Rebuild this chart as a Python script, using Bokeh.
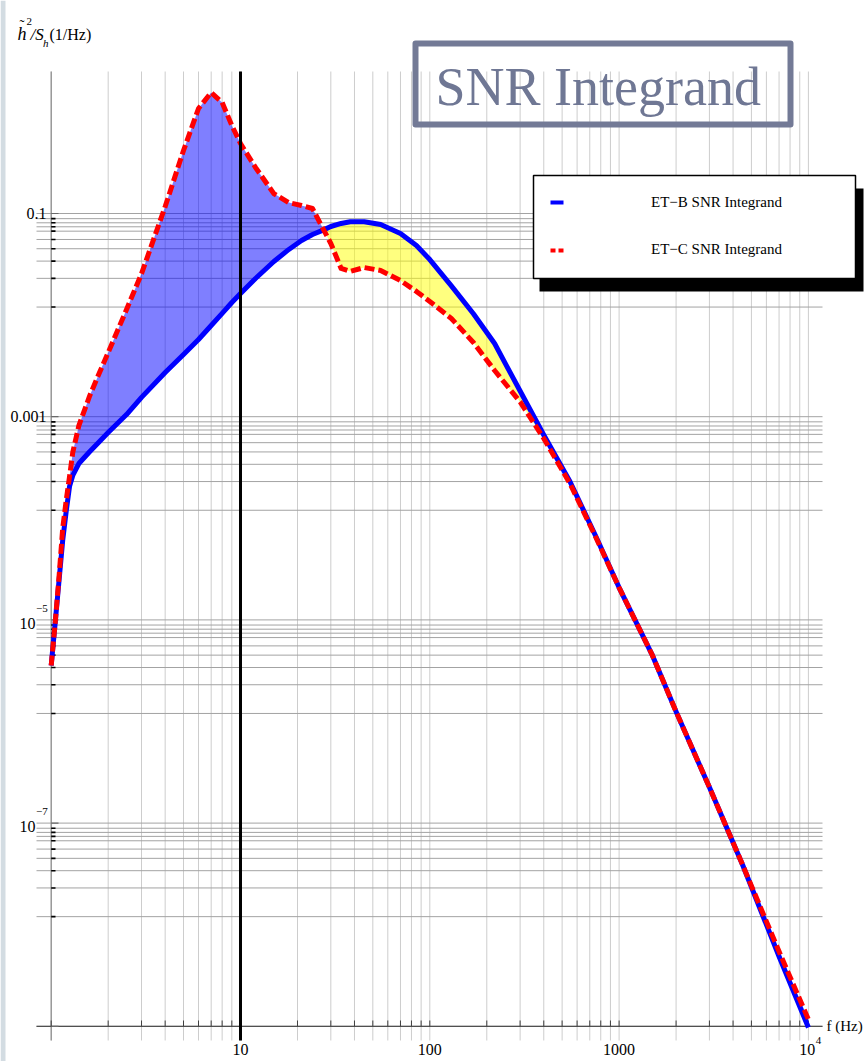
import numpy as np
from bokeh.plotting import figure
from bokeh.models import Range1d
from bokeh.core.properties import value
from bokeh.embed import file_html
from bokeh.resources import INLINE

# ---------------- data ----------------
freq = [1, 1.05, 1.1, 1.15, 1.2, 1.25, 1.3, 1.4, 1.6, 1.8, 2, 2.5, 3, 4, 5, 6, 7, 8, 9, 10,
        12, 15, 18, 21, 24, 27.5, 30, 34, 38, 45, 55, 70, 85, 100, 130, 170, 220, 300,
        400, 550, 750, 1000, 1500, 2000, 3000, 4500, 7000, 10000]

et_b = [3.56e-6, 9.42e-6, 2.44e-5, 6.04e-5, 1.17e-4, 2.06e-4, 2.64e-4, 3.46e-4, 4.54e-4, 5.70e-4,
        6.99e-4, 1.05e-3, 1.55e-3, 2.72e-3, 4.09e-3, 5.75e-3, 7.90e-3, 0.0104, 0.0133,
        0.0163, 0.0229, 0.0337, 0.0443, 0.0542, 0.0621, 0.069, 0.0745, 0.0798, 0.083,
        0.083, 0.078, 0.0636, 0.0484, 0.0352, 0.0194, 0.0103, 5.25e-3, 1.79e-3, 6.6e-4,
        2.30e-4, 6.78e-5, 2.08e-5, 4.47e-6, 1.25e-6, 2.25e-7, 3.85e-8, 4.86e-9, 9.73e-10]

et_c = [3.56e-6, 9.42e-6, 2.67e-5, 7.94e-5, 1.50e-4, 2.58e-4, 4.45e-4, 8.18e-4, 1.62e-3, 2.72e-3,
        4.28e-3, 0.01135, 0.0256, 0.117, 0.417, 1.08, 1.55, 1.24, 0.735, 0.489, 0.284,
        0.157, 0.128, 0.12, 0.112, 0.069, 0.0507, 0.0288, 0.0269, 0.0294, 0.0275, 0.0219,
        0.0171, 0.0136, 9.27e-3, 5.37e-3, 2.85e-3, 1.40e-3, 6.10e-4, 2.20e-4, 6.62e-5,
        2.08e-5, 4.47e-6, 1.25e-6, 2.25e-7, 3.85e-8, 5.44e-9, 1.17e-9]

series_names = ["ET\u2212B SNR Integrand", "ET\u2212C SNR Integrand"]
title_text = "SNR Integrand"
x_label = "f (Hz)"

# tick values
x_ticks = [10, 100, 1000, 10000]
x_tick_text = ["10", "100", "1000"]
y_major = [1e-1, 1e-3, 1e-5, 1e-7, 1e-9]
y_major_text = ["0.1", "0.001"]
y_minor_frac = [0.89, 0.81, 0.74, 0.67, 0.555, 0.45, 0.34, 0.23, 0.12]
x_grid = [k * 10 ** n for n in range(0, 4) for k in range(1, 10)] + [1e4]

# ---------------- layout helpers (pixel -> data) ----------------
W, H = 865, 1061
def fx(px):
    return 10 ** (1 + (px - 240) / 189.3)

def fy(py):
    return 10 ** (-1 - (py - 213) / 101.6)

p = figure(width=W, height=H, x_axis_type="log", y_axis_type="log",
           x_range=Range1d(fx(0), fx(W)), y_range=Range1d(fy(H), fy(0)),
           x_axis_location=None, y_axis_location=None,
           toolbar_location=None, output_backend="svg", min_border=0)
p.grid.visible = False
p.outline_line_color = None
p.background_fill_color = "white"
p.border_fill_color = "white"

SERIF = value("Liberation Serif")

def label(px, py, txt, size, align="left", italic=False, color="black"):
    p.text(x=[fx(px)], y=[fy(py)], text=[txt], text_font=SERIF,
           text_font_style="italic" if italic else "normal",
           text_font_size=size, text_align=align, text_baseline="middle",
           text_color=color)

# left light strip
p.quad(left=[fx(0)], right=[fx(5)], bottom=[fy(H)], top=[fy(0)],
       fill_color="#d3dce2", line_color=None)

# ---------------- grid ----------------
gy_top, gy_bot = fy(71), fy(1040)
gx_l, gx_r = fx(36), fx(822)
p.segment(x0=x_grid, x1=x_grid, y0=[gy_top] * len(x_grid), y1=[gy_bot] * len(x_grid),
          line_color="#cdcdcd", line_width=1)
y_minor = [m * f for m in y_major[:-1] for f in y_minor_frac]
y_grid = y_major + y_minor
p.segment(x0=[gx_l] * len(y_grid), x1=[gx_r] * len(y_grid), y0=y_grid, y1=y_grid,
          line_color="#a3a3a3", line_width=1)

# ---------------- fills between curves ----------------
b = np.array(et_b)
c = np.array(et_c)
p.varea(x=freq, y1=b, y2=np.maximum(b, c), fill_color="blue", fill_alpha=0.5)
p.varea(x=freq, y1=np.minimum(b, c), y2=b, fill_color="yellow", fill_alpha=0.5)

# ---------------- axes ----------------
p.segment(x0=[1], x1=[1], y0=[gy_top], y1=[gy_bot], line_color="#8a8a8a", line_width=1.2)
p.segment(x0=[gx_l], x1=[gx_r], y0=[y_major[-1]], y1=[y_major[-1]],
          line_color="#505050", line_width=1.3)
# y ticks
p.segment(x0=[1] * len(y_minor), x1=[fx(55)] * len(y_minor), y0=y_minor, y1=y_minor,
          line_color="black", line_width=1.6)
p.segment(x0=[1] * len(y_major), x1=[fx(58)] * len(y_major), y0=y_major, y1=y_major,
          line_color="#6a6a6a", line_width=1.2)
# x ticks
p.segment(x0=x_grid, x1=x_grid, y0=[y_major[-1]] * len(x_grid), y1=[fy(1020)] * len(x_grid),
          line_color="#404040", line_width=1)

# ---------------- curves ----------------
p.line(freq, et_b, line_color="blue", line_width=5, line_join="round")
p.line(freq, et_c, line_color="red", line_width=5, line_dash="10 4", line_join="round")

# black vertical line at 10 Hz
p.segment(x0=[10], x1=[10], y0=[gy_top], y1=[gy_bot], line_color="black", line_width=3)

# ---------------- tick labels ----------------
p.text(x=[fx(46)] * 2, y=y_major[:2], text=y_major_text, text_font=SERIF,
       text_font_size="16px", text_align="right", text_baseline="middle", text_color="black")
# 10^-5, 10^-7
p.text(x=[fx(35)] * 2, y=[y_major[2] * 0.93, y_major[3] * 0.93], text=["10", "10"], text_font=SERIF,
       text_font_size="16px", text_align="right", text_baseline="middle", text_color="black")
p.text(x=[fx(35.5)] * 2, y=[y_major[2] * 1.3, y_major[3] * 1.3], text=["\u22125", "\u22127"],
       text_font=SERIF, text_font_size="11px", text_align="left", text_baseline="middle",
       text_color="black")
# x labels
p.text(x=x_ticks[:3], y=[fy(1049)] * 3, text=x_tick_text, text_font=SERIF,
       text_font_size="16px", text_align="center", text_baseline="middle", text_color="black")
p.text(x=[x_ticks[3] * 0.985], y=[fy(1049)], text=["10"], text_font=SERIF,
       text_font_size="16px", text_align="center", text_baseline="middle", text_color="black")
p.text(x=[x_ticks[3] * 1.095], y=[fy(1040)], text=["4"], text_font=SERIF,
       text_font_size="11px", text_align="left", text_baseline="middle", text_color="black")
label(826, 1025, x_label, "15px")

# y axis label  h~^2 / S_h (1/Hz)
label(17, 33, "h", "18px", italic=True)
label(19, 24, "\u02dc", "15px")
label(26, 21, "2", "11px")
label(30, 34, "/S", "17px", italic=True)
label(42.5, 42, "h", "11px", italic=True)
label(49, 34, "(1/Hz)", "16px")

# ---------------- title box ----------------
p.quad(left=[fx(415)], right=[fx(790)], top=[fy(43)], bottom=[fy(124)],
       fill_color=None, line_color="#737a96", line_width=6, line_join="round")
label(435, 86, title_text, "54px", color="#6f7794")

# ---------------- legend ----------------
p.quad(left=[fx(539)], right=[fx(863)], top=[fy(188)], bottom=[fy(291)],
       fill_color="black", line_color=None)
p.quad(left=[fx(533)], right=[fx(855)], top=[fy(175)], bottom=[fy(278)],
       fill_color="white", line_color="black", line_width=1.5)
p.segment(x0=[fx(550)], x1=[fx(563)], y0=[fy(202)], y1=[fy(202)],
          line_color="blue", line_width=4)
p.segment(x0=[fx(550)], x1=[fx(563)], y0=[fy(250)], y1=[fy(250)],
          line_color="red", line_width=4, line_dash="5 3")
p.text(x=[fx(716)] * 2, y=[fy(201), fy(248)], text=series_names, text_font=SERIF,
       text_font_size="15px", text_align="center", text_baseline="middle", text_color="black")

open("out.html", "w").write(file_html(p, INLINE))
